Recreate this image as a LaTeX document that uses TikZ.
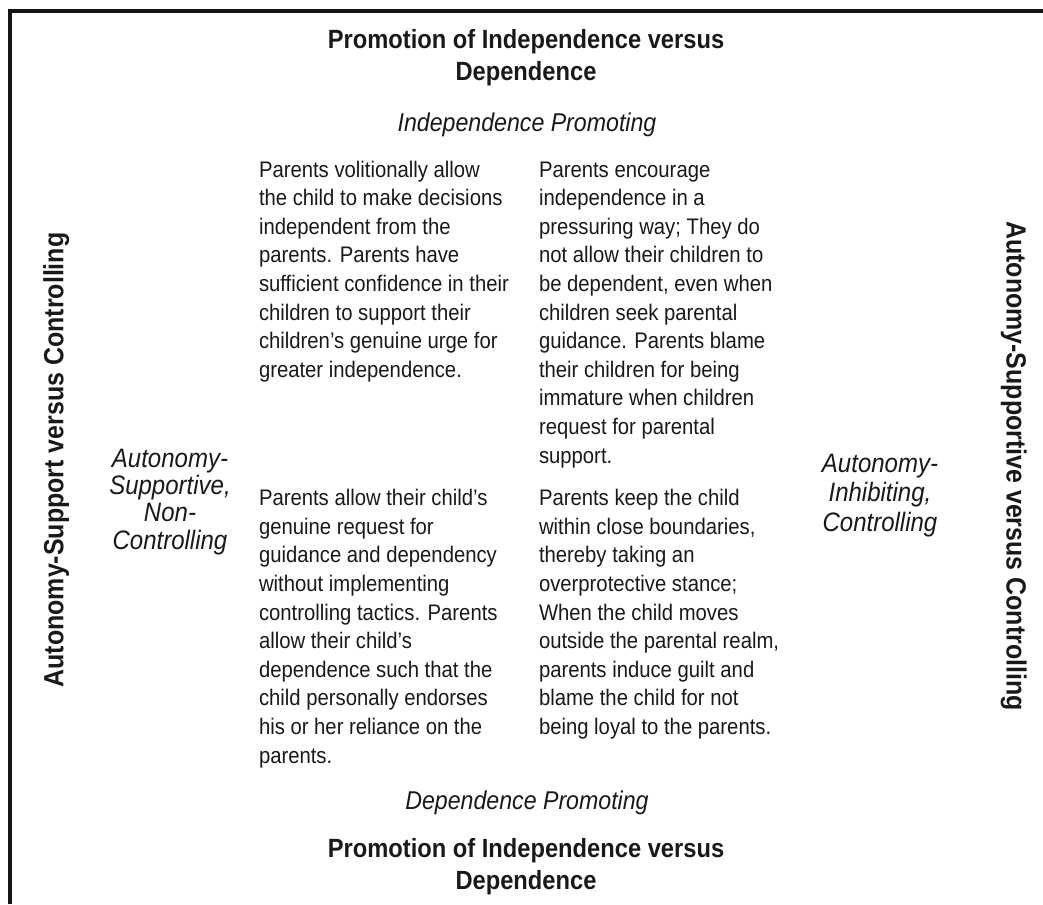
\documentclass[tikz,border=0pt]{standalone}
\usepackage{fontspec}
\setmainfont{Liberation Sans}[FakeStretch=0.9]
\begin{document}
\begin{tikzpicture}[x=0.75pt,y=-0.75pt,
  every node/.style={inner sep=0pt,outer sep=0pt,text=black!90},
  titletxt/.style={align=center,anchor=base,font={\fontsize{19.75}{23.5}\selectfont\bfseries}},
  poletxt/.style={anchor=base,font={\fontsize{19.3}{23}\selectfont\itshape}},
  sidetxt/.style={align=center,anchor=base,font={\fontsize{20}{20.4}\selectfont\itshape}},
  sidetxtb/.style={align=center,anchor=base,font={\fontsize{20}{22}\selectfont\itshape}},
  bodytxt/.style={align=left,anchor=base west,font={\fontsize{16.9}{21.45}\selectfont}},
  axistxt/.style={anchor=base,font={\fontsize{20.8}{24}\selectfont\bfseries}},
  frame/.style={line width=3pt,draw=black!92}]
\useasboundingbox (0,0) rectangle (1043,904);
\coordinate (bl) at (10,904);
\coordinate (tl) at (10,10.8);
\coordinate (tr) at (1043,10.8);
\draw[frame] (bl) -- (tl) -- (tr);

% multi-line nodes are anchored at the baseline of their last line
\node[titletxt] (ttop) at (526,80) {Promotion of Independence versus\\Dependence};
\node[poletxt] (indep) at (527,131.7) {Independence Promoting};

\node[bodytxt] (q1) at (259,377.2) {Parents volitionally allow\\the child to make decisions\\independent from the\\parents. Parents have\\sufficient confidence in their\\children to support their\\children’s genuine urge for\\greater independence.};
\node[bodytxt] (q2) at (539,463) {Parents encourage\\independence in a\\pressuring way; They do\\not allow their children to\\be dependent, even when\\children seek parental\\guidance. Parents blame\\their children for being\\immature when children\\request for parental\\support.};
\node[bodytxt] (q3) at (259,763) {Parents allow their child’s\\genuine request for\\guidance and dependency\\without implementing\\controlling tactics. Parents\\allow their child’s\\dependence such that the\\child personally endorses\\his or her reliance on the\\parents.};
\node[bodytxt] (q4) at (539,734.5) {Parents keep the child\\within close boundaries,\\thereby taking an\\overprotective stance;\\When the child moves\\outside the parental realm,\\parents induce guilt and\\blame the child for not\\being loyal to the parents.};

\node[sidetxt] (auts) at (170,549) {Autonomy-\\Supportive,\\Non-\\Controlling};
\node[sidetxtb] (auti) at (880,531) {Autonomy-\\Inhibiting,\\Controlling};

\node[poletxt] (dep) at (527,809) {Dependence Promoting};
\node[titletxt] (tbot) at (526,889) {Promotion of Independence versus\\Dependence};

\node[axistxt,rotate=90] (axl) at (63.3,460) {Autonomy-Support versus Controlling};
\node[axistxt,rotate=-90] (axr) at (1006.7,466) {Autonomy-Supportive versus Controlling};
\end{tikzpicture}
\end{document}
